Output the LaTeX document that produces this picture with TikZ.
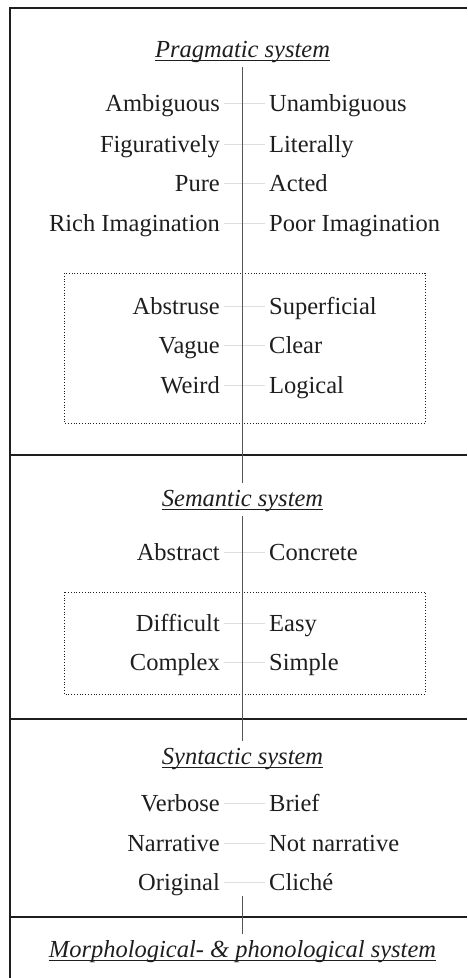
\documentclass[tikz,border=0pt]{standalone}
\usepackage{fontspec}
\setmainfont{Liberation Serif}
\usetikzlibrary{positioning}
\definecolor{ink}{RGB}{30,30,30}
\definecolor{spine}{RGB}{85,85,85}
\definecolor{mist}{RGB}{222,222,222}

\begin{document}
\begin{tikzpicture}[x=1pt,y=1pt,
    every node/.style={font=\fontsize{24.5}{28}\selectfont,text=ink},
    frame/.style={draw=ink,line width=1.1pt},
    dotbox/.style={draw=ink,line width=0.8pt,dotted},
    axis/.style={draw=spine,line width=0.8pt},
    rung/.style={draw=mist,line width=0.8pt},
    lword/.style={anchor=east,inner xsep=4pt,inner ysep=0pt,text height=16pt,text depth=0pt},
    rword/.style={anchor=west,inner xsep=4pt,inner ysep=0pt,text height=16pt,text depth=0pt},
    title/.style={anchor=base,inner xsep=0pt,inner ysep=4pt,text height=19pt,text depth=6pt,font=\fontsize{24.5}{28}\selectfont\itshape}]
        \useasboundingbox (0,0) rectangle (467,-978);
        % frame and section lines
        \draw[frame] (467,-8) -| (10,-978);
        \foreach \y in {455,719,917}
          \draw[frame] (10,-\y) -- (467,-\y);
        % grouped pairs
        \draw[dotbox] (64,-273) rectangle (425,-423);
        \draw[dotbox] (64,-592) rectangle (425,-694);
        % titles
        \node[title] (prag) at (242.5,-57) {Pragmatic system};
        \node[title] (sem) at (242.5,-506) {Semantic system};
        \node[title] (syn) at (242.5,-764) {Syntactic system};
        \node[title] (morph) at (242.5,-957) {Morphological- \& phonological system};
        \foreach \t in {prag,sem,syn,morph}
          \draw[ink,line width=0.8pt] ([yshift=-3pt]\t.base west) -- ([yshift=-3pt]\t.base east);
        % opposite pairs
        \foreach \n/\y/\l/\r in {a/103/Ambiguous/Unambiguous,b/144/Figuratively/Literally,
            c/183/Pure/Acted,d/223/Rich Imagination/Poor Imagination,
            e/306/Abstruse/Superficial,f/345/Vague/Clear,g/385/Weird/Logical,
            h/552/Abstract/Concrete,i/623/Difficult/Easy,j/662/Complex/Simple,
            k/803/Verbose/Brief,l/843/Narrative/Not narrative,m/882/Original/Cliché}{
          \node[lword] (l\n) at (224,-\y) {\l};
          \node[rword] (r\n) at (265,-\y) {\r};
          \draw[rung] (l\n.east) -- (r\n.west);
        }
        % central axis
        \coordinate (syncut) at (242.5,-896);
        \draw[axis] (prag.south) -- (sem.north);
        \draw[axis] (sem.south) -- (syn.north);
        \draw[axis] (syncut) -- (morph.north);
      \end{tikzpicture}
\end{document}
